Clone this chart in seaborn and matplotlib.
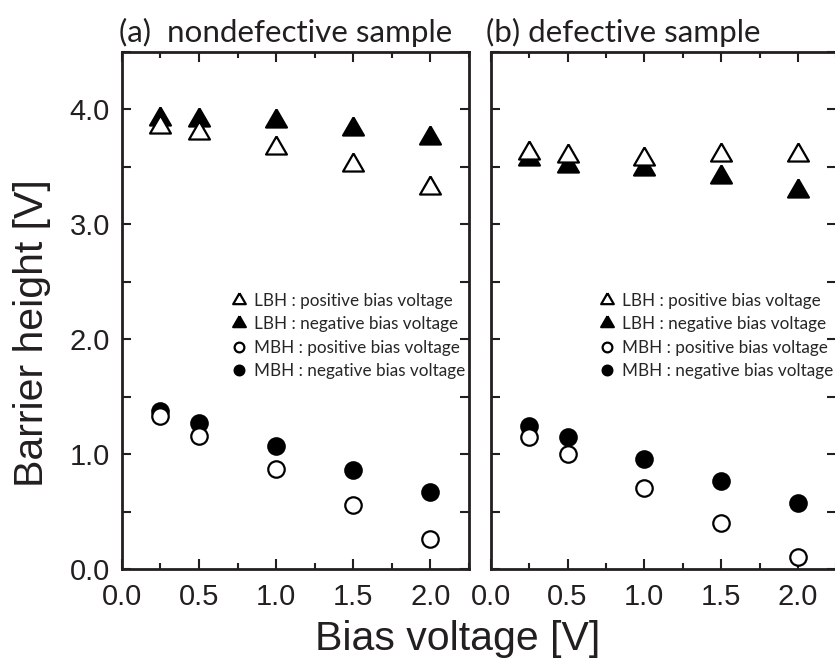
import numpy as np
import pandas as pd
import matplotlib
matplotlib.use("Agg")
import matplotlib.pyplot as plt
from matplotlib.ticker import MultipleLocator, FuncFormatter
from matplotlib.lines import Line2D
import seaborn as sns

# ---------------- data ----------------
bias = [0.25, 0.5, 1.0, 1.5, 2.0]

a_lbh_pos = [3.85, 3.79, 3.66, 3.52, 3.32]
a_lbh_neg = [3.92, 3.91, 3.90, 3.83, 3.75]
a_mbh_pos = [1.33, 1.16, 0.87, 0.56, 0.26]
a_mbh_neg = [1.38, 1.27, 1.07, 0.86, 0.67]

b_lbh_pos = [3.62, 3.59, 3.57, 3.60, 3.60]
b_lbh_neg = [3.57, 3.51, 3.48, 3.41, 3.29]
b_mbh_pos = [1.15, 1.00, 0.71, 0.40, 0.11]
b_mbh_neg = [1.25, 1.15, 0.96, 0.77, 0.58]

panel_titles = ["(a)  nondefective sample", "(b) defective sample"]
legend_labels = ["LBH : positive bias voltage", "LBH : negative bias voltage",
                 "MBH : positive bias voltage", "MBH : negative bias voltage"]
xlabel = "Bias voltage [V]"
ylabel = "Barrier height [V]"

# ---------------- style ----------------
sns.set_style("ticks")
plt.rcParams["font.family"] = ["Liberation Sans", "DejaVu Sans"]
plt.rcParams["axes.linewidth"] = 2.0

fig = plt.figure(figsize=(8.35, 6.61), dpi=100)
ax_a = fig.add_axes([0.1458, 0.1387, 0.4159, 0.7829])
ax_b = fig.add_axes([0.5877, 0.1387, 0.4139, 0.7829])

# equilateral triangle marker (centroid centred)
tri = [(0.0, 0.577), (-0.5, -0.289), (0.5, -0.289), (0.0, 0.577)]

S_TRI = 300
S_CIR = 140
LW = 1.6

panels = [
    (ax_a, a_lbh_pos, a_lbh_neg, a_mbh_pos, a_mbh_neg, panel_titles[0], -2.0),
    (ax_b, b_lbh_pos, b_lbh_neg, b_mbh_pos, b_mbh_neg, panel_titles[1], -3.4),
]

for ax, lp, ln, mp, mn, title, tdx in panels:
    # filled markers first, open (white-filled) markers on top
    sns.scatterplot(x=bias, y=ln, ax=ax, marker=tri, s=S_TRI, facecolor="black",
                    edgecolor="black", linewidth=LW, zorder=3)
    sns.scatterplot(x=bias, y=mn, ax=ax, marker="o", s=S_CIR, facecolor="black",
                    edgecolor="black", linewidth=LW, zorder=3)
    sns.scatterplot(x=bias, y=lp, ax=ax, marker=tri, s=S_TRI, facecolor="white",
                    edgecolor="black", linewidth=LW, zorder=4)
    sns.scatterplot(x=bias, y=mp, ax=ax, marker="o", s=S_CIR, facecolor="white",
                    edgecolor="black", linewidth=LW, zorder=4)

    ax.set_xlim(0, 2.25)
    ax.set_ylim(0, 4.5)
    ax.xaxis.set_major_locator(MultipleLocator(0.5))
    ax.xaxis.set_minor_locator(MultipleLocator(0.25))
    ax.yaxis.set_major_locator(MultipleLocator(1.0))
    ax.yaxis.set_minor_locator(MultipleLocator(0.5))
    ax.xaxis.set_major_formatter(FuncFormatter(lambda v, p: f"{v:.1f}"))
    ax.yaxis.set_major_formatter(FuncFormatter(lambda v, p: f"{v:.1f}"))
    ax.tick_params(axis="both", which="both", direction="in", top=True, right=True,
                   width=1.5, colors="#231f20")
    ax.tick_params(axis="x", which="major", length=7.2, pad=9.5, labelsize=21)
    ax.tick_params(axis="x", which="minor", length=4.3)
    ax.tick_params(axis="y", which="both", length=6.5, pad=8.5, labelsize=21)
    for sp in ax.spines.values():
        sp.set_visible(True)
        sp.set_linewidth(2.0)
        sp.set_color("#231f20")
    ax.set_xlabel("")
    ax.set_ylabel("")

    ax.annotate(title, xy=(0, 1), xycoords="axes fraction", xytext=(tdx, 7),
                textcoords="offset points", ha="left", va="baseline",
                fontsize=22.6, family=["Lato", "DejaVu Sans"], color="#231f20")

    handles = [
        Line2D([], [], ls="none", marker=tri, ms=10.5, mfc="white", mec="black", mew=LW),
        Line2D([], [], ls="none", marker=tri, ms=10.5, mfc="black", mec="black", mew=LW),
        Line2D([], [], ls="none", marker="o", ms=7, mfc="white", mec="black", mew=LW),
        Line2D([], [], ls="none", marker="o", ms=7, mfc="black", mec="black", mew=LW),
    ]
    ax.legend(handles, legend_labels, loc="center left", bbox_to_anchor=(0.318, 0.451),
              frameon=False, borderpad=0, borderaxespad=0, handlelength=0.8,
              handletextpad=0.45, labelspacing=0.42,
              prop={"family": ["Lato", "DejaVu Sans"], "size": 12.3})

ax_b.set_yticklabels([])

fig.text(458 / 835, (661 - 650) / 661, xlabel, ha="center", va="baseline",
         fontsize=29.5, color="#231f20")
fig.text(32 / 835, (661 - 333) / 661, ylabel, ha="center", va="center",
         rotation=90, fontsize=29.5, color="#231f20")

fig.savefig("out.png", dpi=100)
